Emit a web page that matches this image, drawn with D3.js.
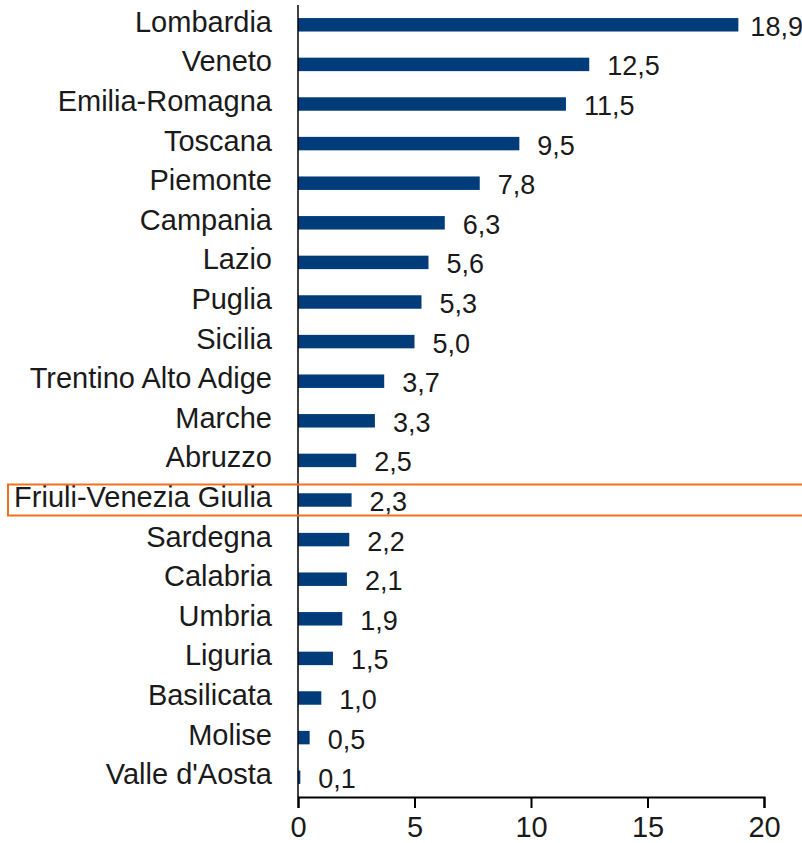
<!DOCTYPE html>
<html>
<head>
<meta charset="utf-8">
<script src="https://cdn.jsdelivr.net/npm/d3@7"></script>
<style>
  body { margin: 0; background: #fff; }
  text { font-family: "Liberation Sans", Arial, sans-serif; fill: #1a1a1a; }
</style>
</head>
<body>
<div id="chart"></div>
<script>
// regions, sorted as in the picture
const regions = [
  'Lombardia', 'Veneto', 'Emilia-Romagna', 'Toscana', 'Piemonte', 'Campania',
  'Lazio', 'Puglia', 'Sicilia', 'Trentino Alto Adige', 'Marche', 'Abruzzo',
  'Friuli-Venezia Giulia', 'Sardegna', 'Calabria', 'Umbria', 'Liguria',
  'Basilicata', 'Molise', "Valle d'Aosta"
];
const values = [18.9, 12.5, 11.5, 9.5, 7.8, 6.3, 5.6, 5.3, 5.0, 3.7, 3.3, 2.5, 2.3, 2.2, 2.1, 1.9, 1.5, 1.0, 0.5, 0.1];
const xTicks = [0, 5, 10, 15, 20];
const highlighted = 'Friuli-Venezia Giulia';

const data = regions.map((r, i) => ({region: r, value: values[i]}));

const config = {
  width: 802,
  height: 843,
  margin: {top: 5, right: 38, bottom: 46, left: 298},
  barColor: '#003b7a',
  labelSize: 29,
  valueSize: 27
};

const innerW = config.width - config.margin.left - config.margin.right;
const innerH = config.height - config.margin.top - config.margin.bottom;

const svg = d3.select('#chart').append('svg')
  .attr('width', config.width)
  .attr('height', config.height);

const g = svg.append('g')
  .attr('transform', `translate(${config.margin.left},${config.margin.top})`);

const x = d3.scaleLinear().domain([0, 20]).range([0, innerW]);
const y = d3.scaleBand().domain(regions).range([0, innerH])
  .paddingInner(0.66).paddingOuter(0.33);

// bars
g.selectAll('.bar')
  .data(data)
  .join('rect')
  .attr('class', 'bar')
  .attr('x', x(0))
  .attr('y', d => y(d.region))
  .attr('width', d => x(d.value) - x(0))
  .attr('height', y.bandwidth())
  .attr('fill', config.barColor);

// value labels (the longest one sits tighter so it fits the frame)
const fmt = d3.format('.1f');
g.selectAll('.val')
  .data(data)
  .join('text')
  .attr('class', 'val')
  .attr('x', d => x(d.value) + (d.value > 18 ? 12 : 18))
  .attr('y', d => y(d.region) + y.bandwidth() / 2 + 11)
  .style('font-size', config.valueSize + 'px')
  .text(d => fmt(d.value).replace('.', ','));

// category labels
g.selectAll('.cat')
  .data(data)
  .join('text')
  .attr('class', 'cat')
  .attr('x', -26)
  .attr('y', d => y(d.region) + y.bandwidth() / 2 + 7)
  .attr('text-anchor', 'end')
  .style('font-size', config.labelSize + 'px')
  .text(d => d.region);

// y axis line
g.append('line')
  .attr('x1', x(0)).attr('x2', x(0))
  .attr('y1', 0).attr('y2', innerH)
  .attr('stroke', '#000')
  .attr('stroke-width', 1.5);

// x axis
const xAxis = d3.axisBottom(x)
  .tickValues(xTicks)
  .tickSize(11)
  .tickPadding(8)
  .tickFormat(d3.format('d'));

const xAxisG = g.append('g')
  .attr('transform', `translate(0,${innerH})`)
  .call(xAxis);

xAxisG.select('.domain').attr('stroke', '#000').attr('stroke-width', 2);
xAxisG.selectAll('.tick line').attr('stroke', '#000').attr('stroke-width', 2);
xAxisG.selectAll('.tick text')
  .attr('font-family', null)
  .style('font-size', config.labelSize + 'px')
  .attr('fill', '#1a1a1a');

// highlight box around the selected region
const hy = y(highlighted) + y.bandwidth() / 2;
svg.append('rect')
  .attr('x', 8)
  .attr('y', config.margin.top + hy - 15.5)
  .attr('width', config.width)
  .attr('height', 31)
  .attr('fill', 'none')
  .attr('stroke', '#f07022')
  .attr('stroke-width', 2);
</script>
</body>
</html>
